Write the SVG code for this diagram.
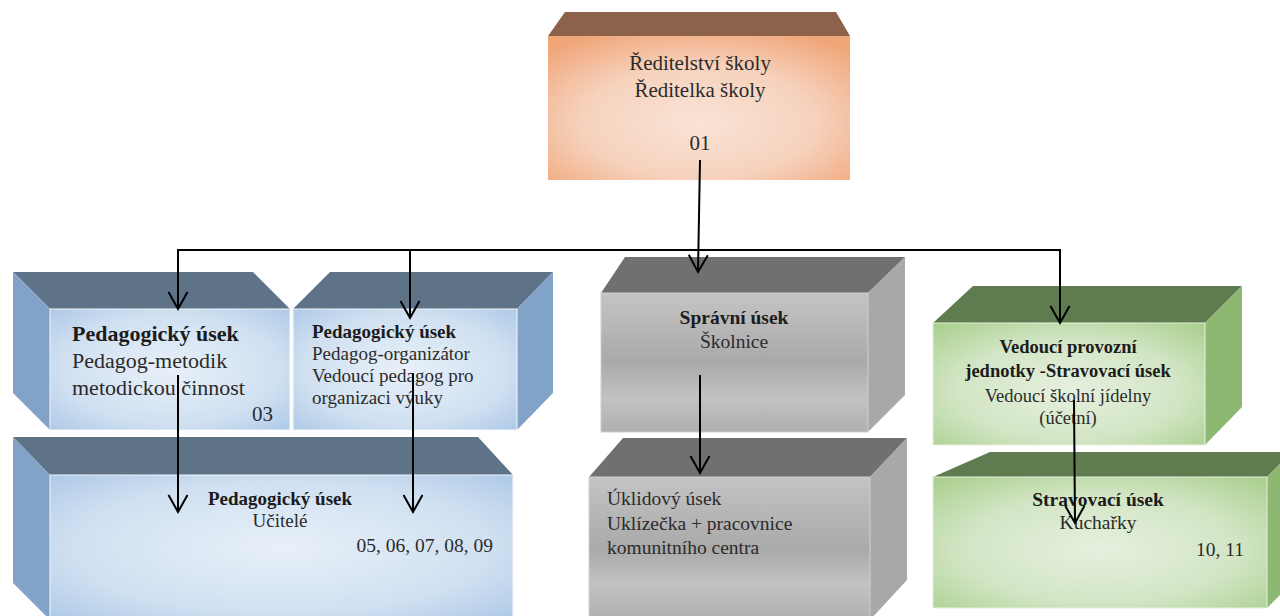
<svg xmlns="http://www.w3.org/2000/svg" width="1280" height="616" viewBox="0 0 1280 616">
<defs>
  <radialGradient id="gPeach" cx="0.5" cy="0.6" r="0.7">
    <stop offset="0" stop-color="#F9E3D6"/>
    <stop offset="0.55" stop-color="#F6D2BD"/>
    <stop offset="1" stop-color="#F0A679"/>
  </radialGradient>
  <radialGradient id="gBlue" cx="0.5" cy="0.5" r="0.75">
    <stop offset="0" stop-color="#E8F0F9"/>
    <stop offset="0.6" stop-color="#D0E0F1"/>
    <stop offset="1" stop-color="#A8C5E5"/>
  </radialGradient>
  <linearGradient id="gGray" x1="0" y1="0" x2="0" y2="1">
    <stop offset="0" stop-color="#C4C4C4"/>
    <stop offset="0.5" stop-color="#A9A9A9"/>
    <stop offset="0.75" stop-color="#C2C2C2"/>
    <stop offset="1" stop-color="#B0B0B0"/>
  </linearGradient>
  <radialGradient id="gGreen" cx="0.5" cy="0.55" r="0.75">
    <stop offset="0" stop-color="#E6F0DF"/>
    <stop offset="0.55" stop-color="#D2E5C4"/>
    <stop offset="1" stop-color="#A6CD89"/>
  </radialGradient>
  <marker id="arr" markerWidth="24" markerHeight="24" viewBox="-20 -12 24 24" refX="0" refY="0" markerUnits="userSpaceOnUse" orient="auto">
    <path d="M-17,-9.5 L0,0 L-17,9.5" fill="none" stroke="#000" stroke-width="2"/>
  </marker>
  <style>
    .t{font-family:"Liberation Serif","DejaVu Serif",serif;fill:#2b2b2b}
    .b{font-weight:bold;fill:#1c1c1c}
    .c{text-anchor:middle}
    .r{text-anchor:end}
    .topB{fill:#5E7388}
    .sideB{fill:#82A3C8}
    .topP{fill:#8C634A}
    .topG{fill:#707070}
    .sideG{fill:#A8A8A8}
    .topN{fill:#5F7C50}
    .sideN{fill:#8DB872}
    .conn{fill:none;stroke:#000;stroke-width:2}
    .face{stroke:#F4F7FA;stroke-width:1}
  </style>
</defs>
<rect width="1280" height="616" fill="#FFFFFF"/>

<g id="node-reditelstvi">
  <polygon class="topP" points="548,36 565,12 836,12 850,36"/>
  <rect x="548" y="36" width="302" height="144" fill="url(#gPeach)"/>
  <text class="t c" x="700" y="70" font-size="21">Ředitelství školy</text>
  <text class="t c" x="700" y="97" font-size="21">Ředitelka školy</text>
  <text class="t c" x="700" y="150" font-size="21">01</text>
</g>

<g id="node-ped-metodik">
  <polygon class="topB" points="13,272 253,272 290,309 50,309"/>
  <polygon class="sideB" points="13,272 50,309 50,430 13,393"/>
  <rect class="face" x="50" y="309" width="240" height="121" fill="url(#gBlue)"/>
  <text class="t b" x="72" y="341" font-size="22">Pedagogický  úsek</text>
  <text class="t" x="72" y="368" font-size="22">Pedagog-metodik</text>
  <text class="t" x="72" y="395" font-size="22">metodickou činnost</text>
  <text class="t r" x="273" y="421" font-size="21">03</text>
</g>

<g id="node-ped-organizator">
  <polygon class="topB" points="293,309 330,272 553,272 517,309"/>
  <polygon class="sideB" points="517,309 553,272 553,393 517,430"/>
  <rect class="face" x="293" y="309" width="224" height="121" fill="url(#gBlue)"/>
  <text class="t b" x="312" y="338" font-size="19">Pedagogický úsek</text>
  <text class="t" x="312" y="360" font-size="19">Pedagog-organizátor</text>
  <text class="t" x="312" y="382" font-size="19">Vedoucí pedagog pro</text>
  <text class="t" x="312" y="404" font-size="19">organizaci výuky</text>
</g>

<g id="node-ucitele">
  <polygon class="topB" points="13,437 478,437 513,475 50,475"/>
  <polygon class="sideB" points="13,437 50,475 50,620 13,583"/>
  <rect class="face" x="50" y="475" width="463" height="145" fill="url(#gBlue)"/>
  <text class="t b c" x="280" y="505" font-size="19">Pedagogický úsek</text>
  <text class="t c" x="280" y="527" font-size="19">Učitelé</text>
  <text class="t r" x="493" y="552" font-size="19.5">05, 06, 07, 08, 09</text>
</g>

<g id="node-spravni">
  <polygon class="topG" points="601,293 625,257 905,257 868,293"/>
  <polygon class="sideG" points="868,293 905,257 905,395 868,432"/>
  <rect x="601" y="293" width="267" height="139" fill="url(#gGray)" stroke="#D0D0D0" stroke-width="1"/>
  <text class="t b c" x="734" y="324" font-size="19.5">Správní úsek</text>
  <text class="t c" x="734" y="348" font-size="19.5" fill="#3a3a3a">Školnice</text>
</g>

<g id="node-uklid">
  <polygon class="topG" points="589,477 623,438 907,438 870,477"/>
  <polygon class="sideG" points="870,477 907,438 907,580 870,620"/>
  <rect x="589" y="477" width="281" height="143" fill="url(#gGray)" stroke="#D0D0D0" stroke-width="1"/>
  <text class="t" x="607" y="505" font-size="19.5">Úklidový úsek</text>
  <text class="t" x="607" y="530" font-size="19.5">Uklízečka + pracovnice</text>
  <text class="t" x="607" y="554" font-size="19.5">komunitního  centra</text>
</g>

<g id="node-vedouci-provozni">
  <polygon class="topN" points="933,323 973,286 1242,286 1205,323"/>
  <polygon class="sideN" points="1205,323 1242,286 1242,407 1205,445"/>
  <rect x="933" y="323" width="272" height="122" fill="url(#gGreen)" stroke="#E8F0E0" stroke-width="1"/>
  <text class="t b c" x="1068" y="353" font-size="18.5">Vedoucí provozní</text>
  <text class="t b c" x="1068" y="377" font-size="18.5">jednotky -Stravovací úsek</text>
  <text class="t c" x="1068" y="402" font-size="18.5">Vedoucí školní jídelny</text>
  <text class="t c" x="1068" y="424" font-size="18.5">(účetní)</text>
</g>

<g id="node-stravovaci">
  <polygon class="topN" points="933,477 990,452 1292,452 1267,477"/>
  <polygon class="sideN" points="1267,477 1292,452 1292,583 1267,608"/>
  <rect x="933" y="477" width="334" height="131" fill="url(#gGreen)" stroke="#E8F0E0" stroke-width="1"/>
  <text class="t b c" x="1098" y="506" font-size="19.5">Stravovací úsek</text>
  <text class="t c" x="1098" y="529" font-size="19.5">Kuchařky</text>
  <text class="t r" x="1244" y="556" font-size="19.5">10, 11</text>
</g>

<g id="connectors">
  <line class="conn" x1="700" y1="160" x2="698" y2="272" marker-end="url(#arr)"/>
  <polyline class="conn" points="178,309 178,250 1060,250 1060,323"/>
  <line class="conn" x1="178" y1="290" x2="178" y2="309" marker-end="url(#arr)"/>
  <line class="conn" x1="1060" y1="300" x2="1060" y2="323" marker-end="url(#arr)"/>
  <line class="conn" x1="410" y1="250" x2="410" y2="318" marker-end="url(#arr)"/>
  <line class="conn" x1="178" y1="375" x2="178" y2="512" marker-end="url(#arr)"/>
  <line class="conn" x1="413" y1="373" x2="413" y2="512" marker-end="url(#arr)"/>
  <line class="conn" x1="700" y1="375" x2="700" y2="473" marker-end="url(#arr)"/>
  <line class="conn" x1="1074" y1="400" x2="1075" y2="523" marker-end="url(#arr)"/>
</g>
</svg>
